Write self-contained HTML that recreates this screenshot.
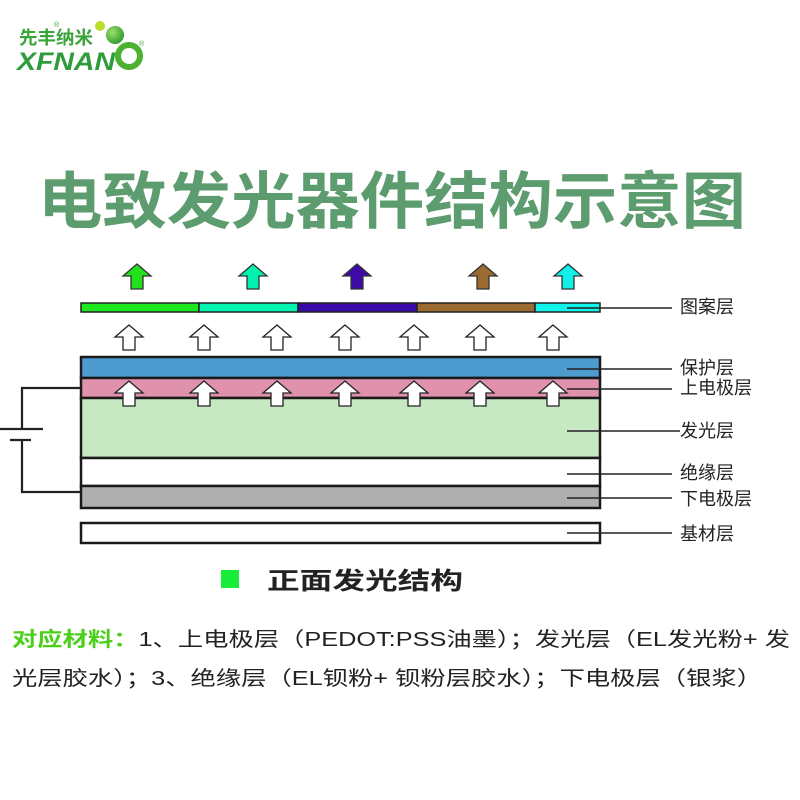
<!DOCTYPE html>
<html><head><meta charset="utf-8"><style>
html,body{margin:0;padding:0;background:#fff;}
svg{display:block;}
text{font-family:"Liberation Sans","Noto Sans CJK SC",sans-serif;}
</style></head><body>
<svg width="800" height="800" viewBox="0 0 800 800" xmlns="http://www.w3.org/2000/svg">
<defs>
<path id="ar" d="M-14,12 L0,0 L14,12 L6,12 L6,25 L-6,25 L-6,12 Z"/>
<radialGradient id="gb" cx="0.35" cy="0.35" r="0.7"><stop offset="0" stop-color="#9fe06a"/><stop offset="1" stop-color="#2f9a2f"/></radialGradient>
</defs>
<!-- logo -->
<text x="19" y="44" font-size="18" fill="#3aa33a" font-weight="bold" textLength="74" lengthAdjust="spacingAndGlyphs">先丰纳米</text>
<text x="54" y="27" font-size="7" fill="#3aa33a">®</text>
<text x="17" y="70" font-size="25" font-weight="bold" font-style="italic" fill="#2e9c3a" textLength="98" lengthAdjust="spacingAndGlyphs">XFNAN</text>
<circle cx="100" cy="26" r="5" fill="#b8e02a"/>
<circle cx="115" cy="35" r="9" fill="url(#gb)"/>
<circle cx="129" cy="56" r="11" fill="none" stroke="#4cb031" stroke-width="6"/>
<text x="139" y="46" font-size="7" fill="#3aa33a">®</text>
<!-- title -->
<text x="38" y="223" font-size="62" font-weight="bold" fill="#5d9c6f" textLength="708" lengthAdjust="spacingAndGlyphs">电致发光器件结构示意图</text>
<!-- colored arrows -->
<g stroke="#333" stroke-width="1.3">
<use href="#ar" x="137" y="264" fill="#22e01a"/>
<use href="#ar" x="253" y="264" fill="#00f2b0"/>
<use href="#ar" x="357" y="264" fill="#3d0aa6"/>
<use href="#ar" x="483" y="264" fill="#9a6a30"/>
<use href="#ar" x="568" y="264" fill="#10f0e8"/>
</g>
<!-- pattern bar -->
<g stroke="#222" stroke-width="1.5">
<rect x="81" y="303" width="118" height="9" fill="#1ee81e"/>
<rect x="199" y="303" width="99" height="9" fill="#00f5b0"/>
<rect x="298" y="303" width="119" height="9" fill="#3a0aa8"/>
<rect x="417" y="303" width="118" height="9" fill="#9a6a30"/>
<rect x="535" y="303" width="65" height="9" fill="#10f4ec"/>
</g>
<!-- white arrows -->
<g fill="#fff" stroke="#222" stroke-width="1.3">
<use href="#ar" x="129" y="325"/><use href="#ar" x="204" y="325"/><use href="#ar" x="277" y="325"/><use href="#ar" x="345" y="325"/><use href="#ar" x="414" y="325"/><use href="#ar" x="480" y="325"/><use href="#ar" x="553" y="325"/>
</g>
<!-- stack -->
<g stroke="#1a1a1a" stroke-width="2.5">
<rect x="81" y="357" width="519" height="21" fill="#4e9bd0"/>
<rect x="81" y="378" width="519" height="20" fill="#e092ad"/>
<rect x="81" y="398" width="519" height="60" fill="#c6e8c2"/>
<rect x="81" y="458" width="519" height="28" fill="#fff"/>
<rect x="81" y="486" width="519" height="22" fill="#afafaf"/>
<rect x="81" y="523" width="519" height="20" fill="#fff"/>
</g>
<g fill="#fff" stroke="#222" stroke-width="1.3">
<use href="#ar" x="129" y="381"/><use href="#ar" x="204" y="381"/><use href="#ar" x="277" y="381"/><use href="#ar" x="345" y="381"/><use href="#ar" x="414" y="381"/><use href="#ar" x="480" y="381"/><use href="#ar" x="553" y="381"/>
</g>
<!-- battery -->
<g stroke="#222" stroke-width="2.2" fill="none">
<polyline points="80,388 22,388 22,429"/>
<line x1="0" y1="429" x2="43" y2="429"/>
<line x1="10" y1="440" x2="31" y2="440"/>
<polyline points="22,440 22,492 80,492"/>
</g>
<!-- leaders -->
<g stroke="#222" stroke-width="1.5">
<line x1="567" y1="308" x2="672" y2="308"/>
<line x1="567" y1="369" x2="672" y2="369"/>
<line x1="567" y1="389" x2="672" y2="389"/>
<line x1="567" y1="431" x2="680" y2="431"/>
<line x1="567" y1="474" x2="672" y2="474"/>
<line x1="567" y1="498" x2="672" y2="498"/>
<line x1="567" y1="533" x2="672" y2="533"/>
</g>
<g font-size="18" fill="#222">
<text x="680" y="313">图案层</text>
<text x="680" y="374">保护层</text>
<text x="680" y="394">上电极层</text>
<text x="680" y="437">发光层</text>
<text x="680" y="479">绝缘层</text>
<text x="680" y="505">下电极层</text>
<text x="680" y="540">基材层</text>
</g>
<!-- legend -->
<rect x="221" y="570" width="18" height="18" fill="#18ee3a"/>
<text x="267" y="589" font-size="24" font-weight="bold" fill="#222" textLength="196" lengthAdjust="spacingAndGlyphs">正面发光结构</text>
<text x="12" y="646" font-size="20" fill="#222" textLength="778" lengthAdjust="spacingAndGlyphs"><tspan fill="#4ccf1a" font-weight="bold">对应材料：</tspan>1、上电极层（PEDOT:PSS油墨）；发光层（EL发光粉+ 发</text>
<text x="12" y="685" font-size="20" fill="#222" textLength="750" lengthAdjust="spacingAndGlyphs">光层胶水）；3、绝缘层（EL钡粉+ 钡粉层胶水）；下电极层（银浆）</text>
</svg>
</body></html>
